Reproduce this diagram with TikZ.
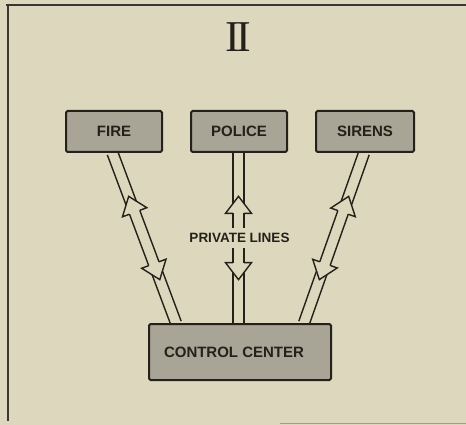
\documentclass[tikz,border=0pt]{standalone}
\usepackage{fontspec}
\setmainfont{Liberation Serif}
\newfontfamily\labfont{Liberation Sans}
\usetikzlibrary{calc}
\definecolor{paper}{HTML}{DDD7BD}
\definecolor{boxgray}{HTML}{A8A496}
\definecolor{ink}{HTML}{24201A}

% double-line "tube" link with two open arrowheads
\newcommand\tubelink[2]{%
  \path let \p1=($(#2)-(#1)$) in \pgfextra{%
    \pgfmathsetmacro\lkang{atan2(\y1,\x1)}%
    \pgfmathsetmacro\lklen{veclen(\x1,\y1)}%
    \xdef\lkang{\lkang}\xdef\lklen{\lklen}};
  \pgfmathsetmacro\lka{0.255*\lklen}%
  \pgfmathsetmacro\lkb{\lka+17}%
  \pgfmathsetmacro\lkd{0.745*\lklen}%
  \pgfmathsetmacro\lkc{\lkd-17}%
  \begin{scope}[shift={(#1)}, rotate=\lkang, x=1pt, y=1pt, tube]
    \draw (0,5.5) -- (\lka+7.2,5.5) (0,-5.5) -- (\lka+7.2,-5.5);
    \draw (\lkb,5.5) -- (\lkb,13) -- (\lka,0) -- (\lkb,-13) -- (\lkb,-5.5);
    \draw (\lkb,5.5) -- (\lkc,5.5) (\lkb,-5.5) -- (\lkc,-5.5);
    \draw (\lkc,5.5) -- (\lkc,13) -- (\lkd,0) -- (\lkc,-13) -- (\lkc,-5.5);
    \draw (\lkd-7.2,5.5) -- (\lklen,5.5) (\lkd-7.2,-5.5) -- (\lklen,-5.5);
  \end{scope}}

\begin{document}
\begin{tikzpicture}[x=1pt,y=-1pt,
  tube/.style={draw=ink, line width=1.4pt, line join=miter},
  unitbox/.style={draw=ink, line width=2pt, fill=boxgray, rounded corners=1.5pt,
    minimum width=96pt, minimum height=41pt, inner sep=0pt,
    font=\labfont\bfseries\fontsize{15}{15}\selectfont, text=ink},
  frameline/.style={draw=ink!90, line width=2pt}]
\useasboundingbox[fill=paper] (0,0) rectangle (466,425);

% frame
\draw[frameline] (6,5) -- (466,5);
\draw[frameline] (8,5) -- (8,421);
\draw[draw=ink!45, line width=1pt] (280,423.5) -- (466,423.5);

% title
\node[font=\fontsize{44}{44}\selectfont, text=ink, inner sep=0pt] (title) at (238.5,37.5) {I\kern-3.2pt I};

% boxes
\node[unitbox] (fire) at (114,131.5) {FIRE};
\node[unitbox] (police) at (239,131.5) {POLICE};
\node[unitbox, minimum width=98pt] (sirens) at (365,131.5) {SIRENS};
\node[unitbox, minimum width=182pt, minimum height=56pt] (cc) at (240,352)
  {\hspace*{-12pt}CONTROL CENTER};

% connection end points
\coordinate (fs) at ($(fire.south)+(-1.5,0)$);
\coordinate (ccl) at ($(cc.north)+(-64,0)$);
\coordinate (ps) at ($(police.south)+(-0.5,0)$);
\coordinate (ccm) at ($(cc.north)+(-1.5,0)$);
\coordinate (ss) at ($(sirens.south)+(-1,0)$);
\coordinate (ccr) at ($(cc.north)+(64,0)$);

\tubelink{fs}{ccl}
\tubelink{ps}{ccm}
\tubelink{ss}{ccr}

% label
\node[fill=paper, inner xsep=1pt, inner ysep=5pt, text=ink,
  font=\labfont\bfseries\fontsize{13.5}{13.5}\selectfont] (lines) at (239.5,238) {PRIVATE LINES};
\end{tikzpicture}
\end{document}
